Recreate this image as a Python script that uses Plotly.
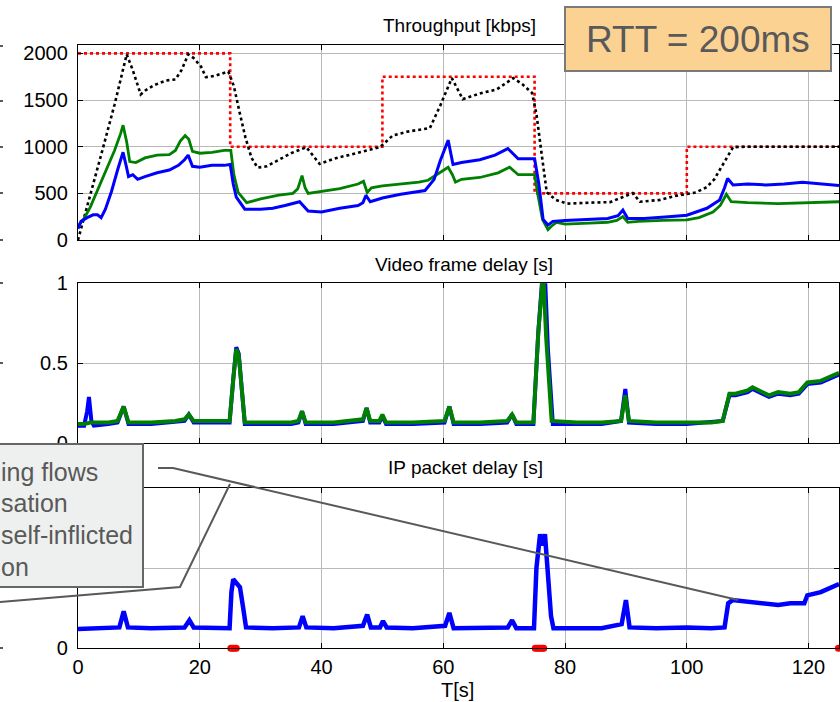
import plotly.graph_objects as go

# ---------------- data (time in seconds) ----------------
# link capacity (step profile)
t_cap = [0, 25, 50, 75, 100, 125]
cap_kbps = [2000, 1000, 1750, 500, 1000, 1000]

# aggregate throughput (black dotted)
t_total = [0, 2, 4, 6, 7.5, 8, 9, 10.3, 11, 12.5, 14.5, 16, 17, 18.1, 19, 20.2, 21, 22.5, 24.7,
           25.6, 26.5, 27.5, 28.5, 29.5, 31, 33, 35, 37.5, 38.6, 39.7, 42, 45, 48, 49.6, 51.7,
           54, 57.8, 59.5, 61.4, 63.2, 66, 68.8, 71.5, 73, 74.6, 75.3, 76.2, 77, 78.5, 80.3,
           84, 87.4, 89.5, 91.1, 92.3, 95.6, 98, 100, 101.5, 103.3, 104.5, 105.4, 106.5,
           107.6, 110, 115, 120, 125]
total_kbps = [0, 470, 960, 1450, 1850, 1990, 1820, 1560, 1600, 1660, 1710, 1720, 1820, 1990, 1950,
              1860, 1745, 1760, 1805, 1650, 1380, 1100, 880, 775, 790, 860, 930, 995, 900, 815,
              870, 920, 970, 995, 1120, 1160, 1200, 1440, 1735, 1510, 1570, 1615, 1735, 1670,
              1575, 1350, 900, 510, 430, 390, 400, 406, 460, 503, 410, 430, 470, 492, 510, 567,
              650, 750, 880, 995, 1000, 1000, 1000, 1000]

# flow 2 throughput (green)
t_green_tp = [0, 1, 2, 3, 4, 5, 6, 7, 7.4, 8.0, 8.5, 9.5, 11, 13, 15, 16, 16.8, 17.6, 18.2, 18.8,
              20, 22, 24, 25.1, 25.6, 26.3, 27.7, 30, 33, 35.3, 36.1, 36.8, 37.3, 37.8, 40, 43,
              46, 46.9, 47.5, 48.2, 50, 53, 56, 57.5, 59, 60.8, 61.5, 62, 63, 66, 69, 70.9, 72.3,
              75, 75.5, 76.3, 77.2, 77.8, 78.6, 80, 84, 87, 88.5, 89.5, 90.3, 92, 96, 100, 102,
              104.3, 105.5, 106.5, 107.3, 110, 115, 120, 125]
green_kbps = [150, 230, 350, 500, 650, 800, 960, 1140, 1230, 1050, 840, 830, 880, 910, 915, 960,
              1060, 1120, 1080, 950, 930, 940, 960, 960, 700, 510, 400, 440, 480, 500, 550, 690,
              560, 500, 520, 550, 600, 630, 510, 560, 580, 600, 620, 640, 700, 780, 700, 620, 650,
              670, 720, 780, 700, 700, 500, 220, 110, 150, 190, 170, 180, 190, 210, 250, 190, 200,
              210, 215, 240, 300, 370, 490, 410, 400, 390, 400, 410]

# flow 1 throughput (blue)
t_blue_tp = [0, 0.5, 1.5, 2.5, 3.2, 3.8, 4.5, 5.5, 6.5, 7.4, 7.9, 8.3, 9, 9.8, 11, 13, 15, 16.5,
             17.5, 18.1, 18.8, 20, 22, 24, 25.0, 25.5, 26, 27.4, 30, 32, 34, 36.4, 37.8, 40, 43,
             46, 46.8, 47.3, 48, 50, 53, 57, 58.5, 59.5, 60.8, 61.6, 63, 66, 68.5, 70.6, 72.3,
             75, 75.7, 76.4, 77.2, 78, 80, 84, 87, 88.7, 89.5, 90.3, 93, 97, 100, 103.3, 105.4,
             106.2, 106.7, 107.6, 110, 113, 116, 119, 122, 125]
blue_kbps = [120, 200, 240, 270, 270, 240, 330, 520, 750, 940, 800, 680, 700, 650, 680, 720, 750,
             800, 860, 910, 790, 780, 800, 800, 810, 600, 460, 330, 330, 340, 370, 410, 310, 300,
             340, 370, 400, 480, 410, 450, 490, 530, 650, 850, 1070, 810, 830, 860, 910, 980, 870,
             870, 600, 220, 160, 200, 210, 220, 230, 260, 320, 230, 230, 250, 265, 340, 430, 560,
             660, 590, 600, 590, 600, 620, 600, 585]

# video frame delay [s]
t_green_fd = [0, 1, 2, 5, 6.5, 7.5, 8.3, 12, 16, 17.5, 18.2, 19, 22, 24.9, 25.5, 26.0, 26.4, 26.9,
              27.4, 30, 35, 36.2, 36.8, 37.4, 42, 46.8, 47.4, 48, 49.5, 50.0, 50.6, 55, 60.2, 61.0,
              61.7, 66, 70.5, 71.3, 72, 74.8, 75.6, 76.3, 76.5, 76.9, 77.8, 82, 86, 89.2, 89.9,
              90.5, 95, 100, 104, 105.9, 107, 108, 110, 110.8, 113.5, 115, 117, 118.4, 119.8, 122,
              125]
green_frame_delay = [0.12, 0.12, 0.13, 0.13, 0.14, 0.23, 0.13, 0.13, 0.14, 0.15, 0.18, 0.14, 0.14,
                     0.14, 0.40, 0.59, 0.55, 0.30, 0.13, 0.13, 0.13, 0.14, 0.20, 0.13, 0.13, 0.15,
                     0.22, 0.14, 0.14, 0.18, 0.13, 0.13, 0.14, 0.23, 0.13, 0.13, 0.14, 0.18, 0.13,
                     0.13, 0.69, 1.02, 1.00, 0.66, 0.14, 0.13, 0.13, 0.14, 0.30, 0.14, 0.13, 0.13,
                     0.13, 0.14, 0.31, 0.31, 0.33, 0.35, 0.30, 0.32, 0.31, 0.32, 0.38, 0.39, 0.44]
t_blue_fd = [0, 1, 1.5, 1.8, 2.2, 2.6, 5, 6.5, 7.5, 8.3, 12, 16, 17.5, 18.2, 19, 22, 24.9, 25.5,
             26.0, 26.4, 26.9, 27.4, 30, 35, 36.2, 36.8, 37.4, 42, 46.8, 47.4, 48, 49.5, 50.0,
             50.6, 55, 60.2, 61.0, 61.7, 66, 70.5, 71.3, 72, 74.8, 75.6, 76.3, 76.7, 77.2, 78.0,
             82, 86, 89.2, 89.9, 90.5, 95, 100, 104, 105.9, 107, 108, 110, 110.8, 113.5, 115, 117,
             118.4, 119.8, 122, 125]
blue_frame_delay = [0.11, 0.11, 0.20, 0.29, 0.14, 0.11, 0.12, 0.13, 0.23, 0.12, 0.12, 0.13, 0.14,
                    0.18, 0.13, 0.13, 0.13, 0.40, 0.60, 0.56, 0.32, 0.12, 0.12, 0.12, 0.13, 0.20,
                    0.12, 0.12, 0.14, 0.22, 0.13, 0.13, 0.17, 0.12, 0.12, 0.13, 0.23, 0.12, 0.12,
                    0.13, 0.18, 0.12, 0.12, 0.69, 1.05, 1.05, 0.58, 0.12, 0.12, 0.12, 0.14, 0.34,
                    0.13, 0.12, 0.12, 0.13, 0.14, 0.30, 0.30, 0.32, 0.34, 0.29, 0.31, 0.30, 0.31,
                    0.37, 0.38, 0.43]

# IP packet delay [s]
t_ip = [0, 5, 6.8, 7.5, 8.2, 12, 17.5, 18.3, 19, 24.9, 25.2, 25.5, 26.0, 26.6, 27.1, 27.6, 32,
        36.3, 36.9, 37.5, 42, 46.8, 47.5, 48.1, 49.6, 50.1, 50.7, 55, 60.3, 61.0, 61.7, 66, 70.6,
        71.3, 72, 74.9, 75.3, 75.9, 76.3, 76.7, 77.2, 77.7, 78.1, 82, 86, 89.3, 90.0, 90.6, 95,
        100, 104, 106.2, 106.8, 107.5, 110, 113, 115, 117, 119.3, 119.8, 122, 125]
ip_delay = [0.12, 0.125, 0.13, 0.23, 0.13, 0.125, 0.13, 0.175, 0.13, 0.125, 0.35, 0.43, 0.41,
            0.38, 0.26, 0.13, 0.125, 0.13, 0.20, 0.13, 0.125, 0.14, 0.21, 0.13, 0.13, 0.17, 0.13,
            0.125, 0.14, 0.22, 0.125, 0.125, 0.13, 0.175, 0.125, 0.125, 0.50, 0.71, 0.64, 0.71,
            0.45, 0.20, 0.125, 0.125, 0.125, 0.15, 0.30, 0.13, 0.125, 0.13, 0.125, 0.13, 0.28,
            0.30, 0.29, 0.28, 0.27, 0.28, 0.28, 0.33, 0.35, 0.40]

# packet loss events (drawn on the time axis)
t_loss = [25.1, 25.4, 25.7, 26.0, 75.1, 75.4, 75.7, 76.0, 76.3, 76.5, 124.9]
loss_level = [0] * len(t_loss)

x_ticks = [0, 20, 40, 60, 80, 100, 120]
tp_ticks = [0, 500, 1000, 1500, 2000]
delay_ticks = [0, 0.5, 1]
frame_delay_tick_text = ["0", "0.5", "1"]
# upper labels of the packet-delay axis sit under the callout box
packet_delay_tick_text = ["0", "", ""]

# ---------------- figure ----------------
W, H = 840, 702
L, R = 78, 1
PW = W - L - R
FONT = "Liberation Sans, Arial, Helvetica, sans-serif"


def px(x):
    return (x - L) / PW


def py(y):
    return 1 - y / H


fig = go.Figure()

# throughput panel
fig.add_trace(go.Scatter(x=t_cap, y=cap_kbps, xaxis="x", yaxis="y", mode="lines",
                         line=dict(color="#ff0000", width=2.6, dash="dot", shape="hv")))
fig.add_trace(go.Scatter(x=t_total, y=total_kbps, xaxis="x", yaxis="y", mode="lines",
                         line=dict(color="#000000", width=2.6, dash="dot")))
fig.add_trace(go.Scatter(x=t_green_tp, y=green_kbps, xaxis="x", yaxis="y", mode="lines",
                         line=dict(color="#008000", width=2.8)))
fig.add_trace(go.Scatter(x=t_blue_tp, y=blue_kbps, xaxis="x", yaxis="y", mode="lines",
                         line=dict(color="#0000ff", width=3)))

# frame delay panel
fig.add_trace(go.Scatter(x=t_blue_fd, y=blue_frame_delay, xaxis="x2", yaxis="y2", mode="lines",
                         line=dict(color="#0000ff", width=4)))
fig.add_trace(go.Scatter(x=t_green_fd, y=green_frame_delay, xaxis="x2", yaxis="y2", mode="lines",
                         line=dict(color="#008000", width=4)))

# packet delay panel
fig.add_trace(go.Scatter(x=t_ip, y=ip_delay, xaxis="x3", yaxis="y3", mode="lines",
                         line=dict(color="#0000ff", width=4.5)))
fig.add_trace(go.Scatter(x=t_loss, y=loss_level, xaxis="x3", yaxis="y3", mode="markers",
                         marker=dict(color="#ff0000", size=7), cliponaxis=False))

axis_common = dict(showline=True, linecolor="black", linewidth=1.3, mirror="ticks",
                   ticks="inside", ticklen=5, tickcolor="black", tickwidth=1,
                   showgrid=True, gridcolor="#b9b9b9", gridwidth=1, zeroline=False,
                   automargin=False,
                   tickfont=dict(family=FONT, size=20, color="#000000"))

xa = dict(axis_common, range=[0, 125], tickvals=x_ticks, domain=[0, 1])
fig.update_layout(
    xaxis=dict(xa, anchor="y", showticklabels=False),
    xaxis2=dict(xa, anchor="y2", showticklabels=False),
    xaxis3=dict(xa, anchor="y3", ticklabelstandoff=1),
    yaxis=dict(axis_common, anchor="x", range=[0, 2090], tickvals=tp_ticks,
               domain=[py(240), py(45)], ticklabelstandoff=5),
    yaxis2=dict(axis_common, anchor="x2", range=[0, 1], tickvals=delay_ticks,
                ticktext=frame_delay_tick_text, domain=[py(443.3), py(283.3)],
                ticklabelstandoff=5),
    yaxis3=dict(axis_common, anchor="x3", range=[0, 1], tickvals=delay_ticks,
                ticktext=packet_delay_tick_text, domain=[py(648.3), py(487.7)],
                ticklabelstandoff=5),
)

annotations = []


def label(text, x, y, size, color="#000000", xanchor="center"):
    annotations.append(dict(text=text, x=px(x), y=py(y), xref="paper", yref="paper",
                            xanchor=xanchor, yanchor="middle", showarrow=False,
                            font=dict(family=FONT, size=size, color=color)))


label("Throughput [kbps]", 459, 25, 19)
label("Video frame delay [s]", 464, 265, 19)
label("IP packet delay [s]", 465, 467, 19)
label("T[s]", 457, 690, 20)

shapes = []

# stray tick marks of the neighbouring axes at the left edge
for yy in [46, 101, 147, 193, 240, 283, 363, 648]:
    shapes.append(dict(type="line", xref="paper", yref="paper", x0=px(0), x1=px(3),
                       y0=py(yy), y1=py(yy), line=dict(color="black", width=1.3)))

# RTT label box
shapes.append(dict(type="rect", xref="paper", yref="paper", x0=px(565), x1=px(831),
                   y0=py(71), y1=py(7), fillcolor="#fcd293", line=dict(color="#7a7a7a", width=2),
                   layer="above"))
label("RTT = 200ms", 698, 40, 37, color="#595959")

# callout box with pointer lines
shapes.append(dict(type="rect", xref="paper", yref="paper", x0=px(-4), x1=px(143),
                   y0=py(587), y1=py(444), fillcolor="#eef0ef", line=dict(color="#666666", width=2),
                   layer="above"))


def path(points):
    d = "M " + " L ".join(f"{px(a):.5f},{py(b):.5f}" for a, b in points)
    return dict(type="path", xref="paper", yref="paper", path=d,
                line=dict(color="#595959", width=2), layer="above")


shapes.append(path([(0, 602), (180, 587), (230, 484)]))
shapes.append(path([(158, 468), (173, 468), (738, 600)]))

for txt, yy in [("ing flows", 472), ("sation", 503), ("self-inflicted", 535), ("on", 567)]:
    label(txt, -1, yy, 25, color="#595959", xanchor="left")

fig.update_layout(
    width=W, height=H, margin=dict(l=L, r=R, t=0, b=0, pad=0, autoexpand=False),
    paper_bgcolor="white", plot_bgcolor="white", showlegend=False,
    annotations=annotations, shapes=shapes,
    font=dict(family=FONT),
)

fig.write_html("out.html")
